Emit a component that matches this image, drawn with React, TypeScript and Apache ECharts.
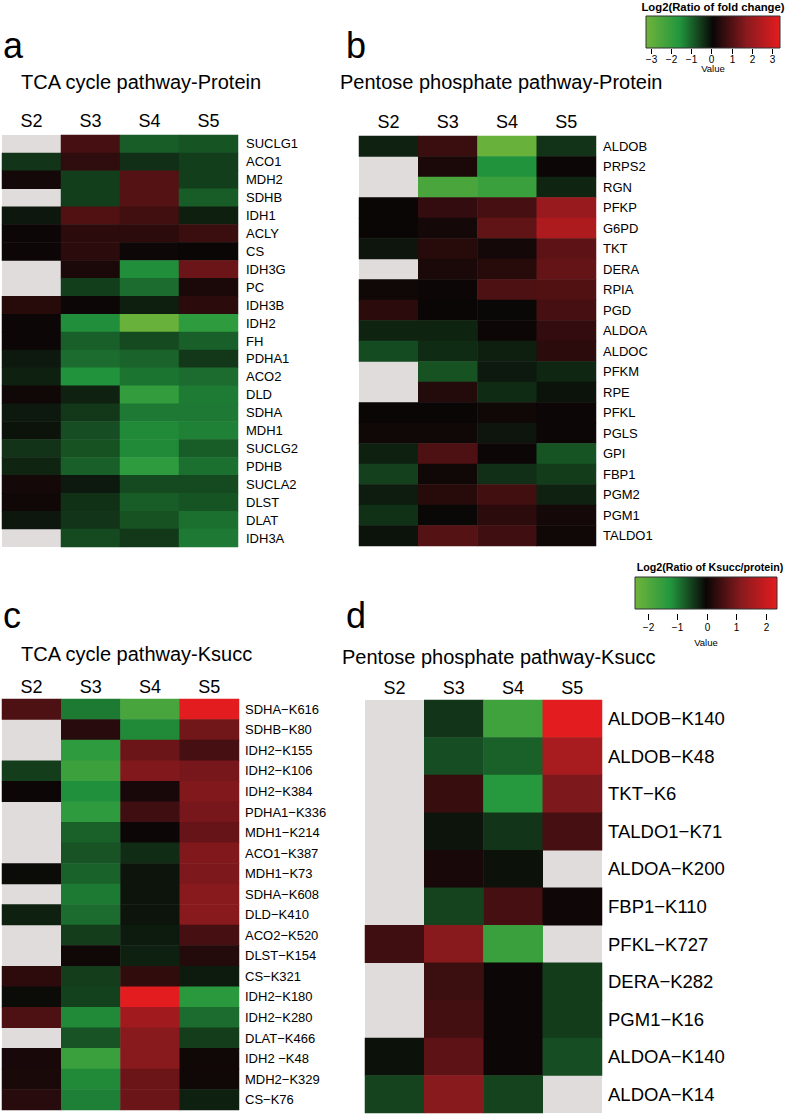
import React, { useEffect, useRef } from 'react';
import * as echarts from 'echarts';

const SAMPLES = ['S2', 'S3', 'S4', 'S5'];

const TCA_PROTEIN_GENES = ['SUCLG1', 'ACO1', 'MDH2', 'SDHB', 'IDH1', 'ACLY', 'CS', 'IDH3G', 'PC', 'IDH3B', 'IDH2', 'FH', 'PDHA1', 'ACO2', 'DLD', 'SDHA', 'MDH1', 'SUCLG2', 'PDHB', 'SUCLA2', 'DLST', 'DLAT', 'IDH3A'];
const TCA_PROTEIN_VALUES: (number | null)[][] = [
  [null, 0.85, -0.92, -0.82],
  [-0.46, 0.55, -0.39, -0.57],
  [0.2, -0.57, 1.04, -0.57],
  [null, -0.57, 1.04, -0.92],
  [-0.12, 1.0, 0.8, -0.2],
  [0.1, 0.5, 0.5, 0.7],
  [0.1, 0.5, 0.12, 0.08],
  [null, 0.3, -1.5, 1.35],
  [null, -0.57, -1.1, 0.3],
  [0.45, 0.1, -0.2, 0.5],
  [0.1, -1.5, -3.1, -1.85],
  [0.1, -0.95, -0.7, -0.95],
  [-0.15, -1.1, -1.0, -0.5],
  [-0.22, -1.55, -1.2, -1.1],
  [0.15, -0.25, -1.95, -1.28],
  [-0.15, -0.5, -1.25, -1.25],
  [-0.08, -0.75, -1.45, -1.35],
  [-0.45, -0.8, -1.45, -0.92],
  [-0.28, -0.95, -1.85, -1.15],
  [0.2, -0.15, -0.7, -0.7],
  [0.15, -0.42, -0.92, -0.82],
  [-0.12, -0.46, -0.8, -1.15],
  [null, -0.7, -0.5, -1.25],
];

const PPP_PROTEIN_GENES = ['ALDOB', 'PRPS2', 'RGN', 'PFKP', 'G6PD', 'TKT', 'DERA', 'RPIA', 'PGD', 'ALDOA', 'ALDOC', 'PFKM', 'RPE', 'PFKL', 'PGLS', 'GPI', 'FBP1', 'PGM2', 'PGM1', 'TALDO1'];
const PPP_PROTEIN_VALUES: (number | null)[][] = [
  [-0.25, 0.7, -3.1, -0.45],
  [null, 0.3, -1.55, 0.1],
  [null, -2.45, -2.1, -0.28],
  [0.08, 0.6, 0.85, 2.0],
  [0.08, 0.2, 1.2, 2.4],
  [-0.1, 0.45, 0.2, 1.15],
  [null, 0.3, 0.45, 1.25],
  [0.15, 0.1, 0.95, 1.0],
  [0.5, 0.08, 0.05, 0.85],
  [-0.26, -0.26, 0.1, 0.6],
  [-0.72, -0.35, -0.2, 0.5],
  [null, -0.8, -0.15, -0.3],
  [null, 0.4, -0.35, -0.08],
  [0.08, 0.08, 0.15, 0.1],
  [0.15, 0.15, -0.1, 0.1],
  [-0.22, 0.95, 0.1, -0.82],
  [-0.6, 0.15, -0.4, -0.55],
  [-0.18, 0.45, 0.8, -0.25],
  [-0.42, 0.05, 0.5, 0.2],
  [-0.08, 1.05, 0.75, 0.15],
];

const TCA_KSUCC_SITES = ['SDHA\u2212K616', 'SDHB\u2212K80', 'IDH2\u2212K155', 'IDH2\u2212K106', 'IDH2\u2212K384', 'PDHA1\u2212K336', 'MDH1\u2212K214', 'ACO1\u2212K387', 'MDH1\u2212K73', 'SDHA\u2212K608', 'DLD\u2212K410', 'ACO2\u2212K520', 'DLST\u2212K154', 'CS\u2212K321', 'IDH2\u2212K180', 'IDH2\u2212K280', 'DLAT\u2212K466', 'IDH2 \u2212K48', 'MDH2\u2212K329', 'CS\u2212K76'];
const TCA_KSUCC_VALUES: (number | null)[][] = [
  [0.61, -1.0, -1.82, 2.35],
  [null, 0.25, -1.13, 0.94],
  [null, -1.42, 0.89, 0.53],
  [-0.49, -1.64, 1.08, 1.0],
  [0.0, -1.18, 0.1, 1.08],
  [null, -1.42, 0.47, 1.0],
  [null, -0.78, 0.0, 0.83],
  [null, -0.67, -0.35, 1.08],
  [-0.08, -0.8, -0.15, 1.05],
  [null, -1.0, -0.15, 1.15],
  [-0.25, -0.88, -0.15, 1.15],
  [null, -0.49, -0.2, 0.53],
  [null, 0.03, -0.25, 0.2],
  [0.3, -0.49, 0.33, -0.2],
  [-0.08, -0.52, 2.35, -1.35],
  [0.6, -1.13, 1.46, -0.88],
  [null, -0.67, 1.15, -0.49],
  [0.1, -1.6, 1.15, 0.03],
  [0.12, -1.13, 0.89, 0.03],
  [0.25, -1.05, 0.89, -0.25],
];

const PPP_KSUCC_SITES = ['ALDOB\u2212K140', 'ALDOB\u2212K48', 'TKT\u2212K6', 'TALDO1\u2212K71', 'ALDOA\u2212K200', 'FBP1\u2212K110', 'PFKL\u2212K727', 'DERA\u2212K282', 'PGM1\u2212K16', 'ALDOA\u2212K140', 'ALDOA\u2212K14'];
const PPP_KSUCC_VALUES: (number | null)[][] = [
  [null, -0.41, -1.7, 2.35],
  [null, -0.62, -0.78, 1.57],
  [null, 0.39, -1.29, 1.05],
  [null, -0.15, -0.41, 0.53],
  [null, 0.1, -0.12, null],
  [null, -0.54, 0.53, 0.02],
  [0.47, 1.15, -1.6, null],
  [null, 0.43, 0.0, -0.48],
  [null, 0.5, 0.0, -0.48],
  [-0.12, 0.75, 0.0, -0.62],
  [-0.54, 1.15, -0.54, null],
];

const FOLD_RANGE = [-3.25, 3.4];
const FOLD_TICKS = [-3, -2, -1, 0, 1, 2, 3];
const KSUCC_RANGE = [-2.43, 2.37];
const KSUCC_TICKS = [-2, -1, 0, 1, 2];
const COLORS = ['#6fb43b', '#22963e', '#0a0606', '#8a1a1e', '#e41c1f'];
const NA_COLOR = '#e0dcdc';
const FONT = '"Liberation Sans", Arial, Helvetica, sans-serif';

function toData(values: (number | null)[][]) {
  const out: number[][] = [];
  values.forEach((row, r) =>
    row.forEach((v, c) => {
      if (v !== null) out.push([c, r, v]);
    })
  );
  return out;
}

function legend(opts: {
  title: string; titleX: number; titleY: number; titleSize: number;
  x0: number; x1: number; y0: number; y1: number;
  range: number[]; ticks: number[];
  tickY0: number; tickY1: number; labelY: number; valueY: number;
}) {
  const els: any[] = [];
  const { x0, x1, y0, y1, range } = opts;
  const pos = (v: number) => x0 + ((v - range[0]) / (range[1] - range[0])) * (x1 - x0);
  els.push({
    type: 'text', silent: true,
    style: { text: opts.title, x: opts.titleX, y: opts.titleY, textAlign: 'center', textVerticalAlign: 'middle', font: `bold ${opts.titleSize}px ${FONT}`, fill: '#000' },
  });
  els.push({
    type: 'rect', silent: true,
    shape: { x: x0, y: y0, width: x1 - x0, height: y1 - y0 },
    style: {
      fill: new echarts.graphic.LinearGradient(0, 0, 1, 0, COLORS.map((c, i) => ({ offset: i / (COLORS.length - 1), color: c }))),
      stroke: '#333', lineWidth: 1,
    },
  });
  opts.ticks.forEach((t) => {
    const x = Math.round(pos(t)) + 0.5;
    els.push({ type: 'line', silent: true, shape: { x1: x, y1: opts.tickY0, x2: x, y2: opts.tickY1 }, style: { stroke: '#000', lineWidth: 1 } });
    els.push({
      type: 'text', silent: true,
      style: { text: t < 0 ? '\u2212' + Math.abs(t) : String(t), x, y: opts.labelY, textAlign: 'center', textVerticalAlign: 'middle', font: `10px ${FONT}`, fill: '#000' },
    });
  });
  els.push({
    type: 'text', silent: true,
    style: { text: 'Value', x: (x0 + x1) / 2, y: opts.valueY, textAlign: 'center', textVerticalAlign: 'middle', font: `9.5px ${FONT}`, fill: '#000' },
  });
  return els;
}

function label(text: string, x: number, y: number, size: number) {
  return {
    type: 'text', silent: true,
    style: { text, x, y, textAlign: 'left', textVerticalAlign: 'middle', font: `${size}px ${FONT}`, fill: '#000' },
  };
}

const PANELS = [
  { rows: TCA_PROTEIN_GENES, values: TCA_PROTEIN_VALUES, grid: { left: 2, top: 135, width: 236, height: 412 }, labelSize: 13, labelMargin: 8, headMargin: 5 },
  { rows: PPP_PROTEIN_GENES, values: PPP_PROTEIN_VALUES, grid: { left: 359, top: 136, width: 237, height: 410 }, labelSize: 13, labelMargin: 7, headMargin: 5 },
  { rows: TCA_KSUCC_SITES, values: TCA_KSUCC_VALUES, grid: { left: 2, top: 699, width: 237, height: 411 }, labelSize: 13, labelMargin: 6, headMargin: 3 },
  { rows: PPP_KSUCC_SITES, values: PPP_KSUCC_VALUES, grid: { left: 365, top: 700, width: 237, height: 413 }, labelSize: 18.5, labelMargin: 6, headMargin: 3 },
];

export default function App() {
  const ref = useRef<HTMLDivElement>(null);
  useEffect(() => {
    if (!ref.current) return;
    const chart = echarts.init(ref.current, undefined, { renderer: 'svg' });
    const option: any = {
      animation: false,
      textStyle: { fontFamily: FONT },
      grid: PANELS.map((p) => ({ ...p.grid, show: true, backgroundColor: NA_COLOR, borderWidth: 0, containLabel: false })),
      xAxis: PANELS.map((p, i) => ({
        type: 'category', gridIndex: i, data: SAMPLES, position: 'top',
        axisLine: { show: false }, axisTick: { show: false }, splitLine: { show: false },
        axisLabel: { fontSize: 18, color: '#000', margin: p.headMargin, fontFamily: FONT },
      })),
      yAxis: PANELS.map((p, i) => ({
        type: 'category', gridIndex: i, data: p.rows, inverse: true, position: 'right',
        axisLine: { show: false }, axisTick: { show: false }, splitLine: { show: false },
        axisLabel: { fontSize: p.labelSize, color: '#000', margin: p.labelMargin, fontFamily: FONT, interval: 0 },
      })),
      visualMap: [
        { type: 'continuous', show: false, min: FOLD_RANGE[0], max: FOLD_RANGE[1], seriesIndex: [0, 1], inRange: { color: COLORS } },
        { type: 'continuous', show: false, min: KSUCC_RANGE[0], max: KSUCC_RANGE[1], seriesIndex: [2, 3], inRange: { color: COLORS } },
      ],
      series: PANELS.map((p, i) => ({
        type: 'heatmap', xAxisIndex: i, yAxisIndex: i, data: toData(p.values),
        itemStyle: { borderWidth: 0 }, emphasis: { disabled: true }, progressive: 0,
      })),
      graphic: {
        elements: [
          label('a', 3, 45, 36),
          label('b', 346, 45, 36),
          label('c', 3, 615, 36),
          label('d', 346, 615, 36),
          label('TCA cycle pathway-Protein', 21, 82, 20),
          label('Pentose phosphate pathway-Protein', 340, 82, 20),
          label('TCA cycle pathway-Ksucc', 21, 654, 20),
          label('Pentose phosphate pathway-Ksucc', 342, 657, 20),
          ...legend({
            title: 'Log2(Ratio of fold change)', titleX: 713, titleY: 7, titleSize: 11.3,
            x0: 646, x1: 780, y0: 16, y1: 48, range: FOLD_RANGE, ticks: FOLD_TICKS,
            tickY0: 49, tickY1: 54, labelY: 59, valueY: 68,
          }),
          ...legend({
            title: 'Log2(Ratio of Ksucc/protein)', titleX: 710, titleY: 567, titleSize: 10.7,
            x0: 635, x1: 777, y0: 577, y1: 609, range: KSUCC_RANGE, ticks: KSUCC_TICKS,
            tickY0: 614, tickY1: 620, labelY: 627, valueY: 642,
          }),
        ],
      },
    };
    chart.setOption(option);
    return () => chart.dispose();
  }, []);
  return <div ref={ref} style={{ position: 'absolute', left: 0, top: 0, width: 787, height: 1116, background: '#fff' }} />;
}
